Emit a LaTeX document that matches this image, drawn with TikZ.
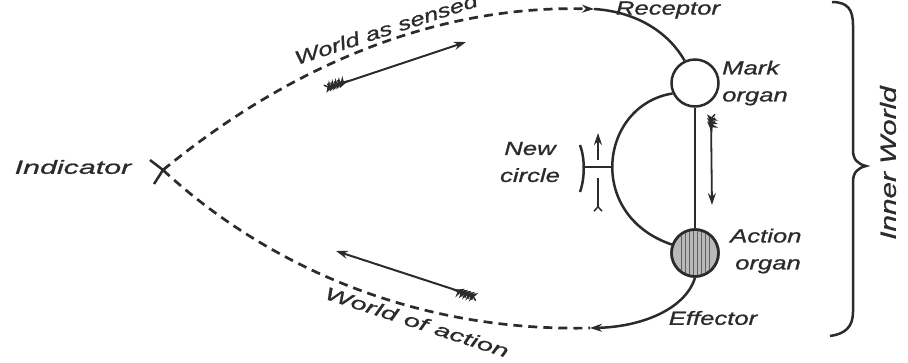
\documentclass[tikz,border=0pt]{standalone}
\usepackage{fontspec}
\newfontfamily\hand[FakeStretch=1.35,FakeBold=1]{Liberation Sans}
\newfontfamily\handw[FakeStretch=1.6,FakeBold=1]{Liberation Sans}
\usetikzlibrary{arrows.meta,decorations.markings}
\definecolor{ink}{HTML}{2B2B2B}
\begin{document}
\begin{tikzpicture}[x=1pt,y=1pt, color=ink,
  lbl/.style={font=\hand\itshape\fontsize{19}{27}\selectfont, inner sep=0pt, text=ink},
  lblw/.style={font=\handw\itshape\fontsize{19}{27}\selectfont, inner sep=0pt, text=ink},
  dsh/.style={dash pattern=on 9pt off 6pt, line width=2.7pt},
  sol/.style={line width=2.5pt},
  tip/.style={-{Stealth[length=12pt,width=8pt]}},
  feather/.style={postaction={decorate,decoration={markings,
     mark=between positions 0.01 and 0.13 step 3.5pt with {\draw[solid,line width=1.5pt] (-4.5pt,4pt)--(0,0)--(-4.5pt,-4pt);}}}},
  organ/.style={circle, draw=ink, line width=2.5pt, minimum size=47pt, inner sep=0pt}
]
\useasboundingbox (0,0) rectangle (908,-362);

% organs
\node[organ, fill=white] (mark) at (695,-83) {};
\node[organ, fill=gray!55] (act) at (695,-253) {};
\begin{scope}
  \clip (695,-253) circle (22pt);
  \foreach \xx in {681,685,...,711} \draw[line width=0.8pt, gray!75!black] (\xx,-230) -- (\xx,-276);
\end{scope}
\node[organ] at (695,-253) {};

% coordinates
\coordinate (ind) at (163,-170);
\coordinate (rec) at (594,-9);
\coordinate (eff) at (590,-328);
\coordinate (nc) at (611,-167);
\coordinate (ncl) at (583,-167);
\coordinate (b1) at (580,-145);
\coordinate (b2) at (580,-192);
\coordinate (ua1) at (598,-160);
\coordinate (ua2) at (598,-133);
\coordinate (da1) at (598,-178);
\coordinate (da2) at (598,-207);
\coordinate (ra1) at (711,-118);
\coordinate (ra2) at (712,-205);
\coordinate (sa1) at (328,-88);
\coordinate (sa2) at (466,-42);
\coordinate (aa1) at (474,-296);
\coordinate (aa2) at (336,-251);
\coordinate (t1) at (150,-160);
\coordinate (t2) at (154,-184);

% world as sensed / world of action
\draw[dsh, tip] (ind) .. controls (295,-62) and (440,-5) .. (rec);
\draw[dsh] (ind) .. controls (255,-255) and (400,-332) .. (eff);
\draw[sol] (t1) -- (ind) -- (t2);

% receptor and effector
\draw[sol] (rec) .. controls (640,-12) and (670,-35) .. (mark.115);
\draw[sol, tip] (act.south) .. controls (685,-310) and (640,-327) .. (eff);

% inner circuit
\draw[sol] (mark.south) -- (act.north);
\draw[sol] (mark.205) .. controls (600,-105) and (585,-215) .. (act.160);
\draw[sol] (nc) -- (ncl);
\draw[sol] (b1) .. controls (585,-158) and (585,-178) .. (b2);
\draw[line width=1.8pt, tip] (ua1) -- (ua2);
\draw[line width=1.8pt, feather] (da2) -- (da1);
\draw[line width=1.8pt, tip, feather] (ra1) -- (ra2);

% flow arrows
\draw[line width=2pt, tip, feather] (sa1) -- (sa2);
\draw[line width=2pt, tip, feather] (aa1) -- (aa2);

% brace
\draw[sol] (832,-2) .. controls (848,-2) and (853,-10) .. (853,-25) -- (853,-150)
  .. controls (853,-160) and (858,-164) .. (866,-166)
  .. controls (858,-168) and (853,-172) .. (853,-182) -- (853,-312)
  .. controls (853,-327) and (845,-334) .. (830,-336);

% labels
\node[lblw] (tInd) at (73,-167) {Indicator};
\node[lbl, rotate=18] (tWas) at (386,-29) {World as sensed};
\node[lbl] (tRec) at (668,-10) {Receptor};
\node[lbl, anchor=west, align=left] (tMark) at (722,-83) {Mark\\organ};
\node[lbl, align=center] (tNew) at (530,-162) {New\\circle};
\node[lbl, anchor=west, align=left] (tAct) at (730,-251) {Action\\\hspace*{5pt}organ};
\node[lbl] (tEff) at (713,-318) {Effector};
\node[lblw, font=\handw\itshape\fontsize{18}{20}\selectfont, rotate=-18] (tWoa) at (417,-322) {World of action};
\node[lbl, font=\hand\itshape\fontsize{22}{24}\selectfont, rotate=90] (tInner) at (888,-163) {Inner World};
\end{tikzpicture}
\end{document}
